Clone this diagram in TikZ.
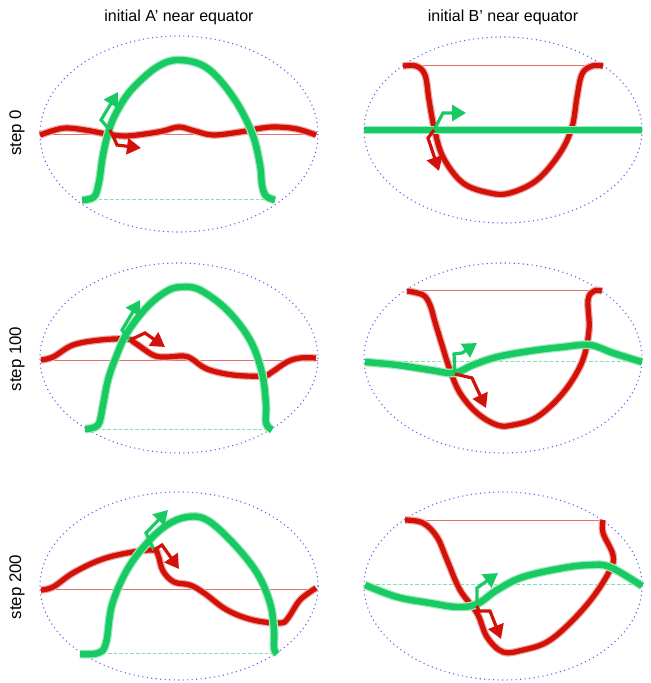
\documentclass[tikz,border=0pt]{standalone}
\usepackage{fontspec}
\setmainfont{Liberation Sans}
\usetikzlibrary{arrows.meta}

\definecolor{redc}{RGB}{210,18,8}
\definecolor{greenc}{RGB}{24,202,98}
\definecolor{rimc}{RGB}{95,95,245}

\begin{document}
\begin{tikzpicture}[x=0.5pt,y=-0.5pt,
    rim/.style={rimc, line width=0.55pt, dash pattern=on 0.55pt off 1.7pt},
    redbase/.style={redc!60, line width=0.5pt},
    greenbase/.style={greenc!55, line width=0.5pt, dash pattern=on 1.8pt off 1pt},
    redcurve/.style={redc, line width=2.6pt, line join=round,
        preaction={draw, redc!35, line width=3.8pt}},
    greencurve/.style={greenc, line width=3.2pt, line join=round,
        preaction={draw, greenc!40, line width=4.4pt}},
    redarrow/.style={redc, line width=1.6pt, line join=miter,
        -{Triangle[length=7pt,width=8pt]}},
    greenarrow/.style={greenc, line width=1.6pt, line join=miter,
        -{Triangle[length=7pt,width=8pt]}},
    heading/.style={font=\fontsize{8}{9}\selectfont},
    rowlabel/.style={font=\fontsize{8.4}{9}\selectfont, rotate=90}
  ]
  \useasboundingbox (0,0) rectangle (650,683);

  \node[heading] (titleA) at (179,17) {initial A' near equator};
  \node[heading] (titleB) at (503,17) {initial B' near equator};
  \node[rowlabel] (step0) at (17,133) {step 0};
  \node[rowlabel] (step100) at (17,359) {step 100};
  \node[rowlabel] (step200) at (17,587) {step 200};

  \foreach \cx/\cy/\ry in {179/134/98, 503/130/93, 179/358/95, 503/358/95, 179/586/94, 503/586/94}
    \draw[rim] (\cx,\cy) ellipse [x radius=139, y radius=\ry];

  % step 0, A'
  \draw[redbase] (40,135) -- (318,135);
  \draw[greenbase] (82,200) -- (275,200);
  \draw[redcurve] plot[smooth, tension=0.6] coordinates {(40,135) (55,130) (67,128) (85,130) (107,134)
    (125,136) (145,134) (163,131) (179,127) (195,131) (213,135) (240,132) (262,128) (277,127)
    (297,129) (316,135)};
  \draw[greencurve] plot[smooth, tension=0.6] coordinates {(82,200) (94,197) (99,182) (103,155)
    (110,127) (120,106) (133,88) (157,67) (179,60) (207,68) (233,97) (252,133) (260,165)
    (262,185) (266,196) (275,200)};
  \coordinate (pA0) at (110,130);
  \draw[greenarrow] (pA0) -- (101,120) -- (118,92);
  \draw[redarrow] (pA0) -- (113,136) -- (117,145) -- (141,148);

  % step 0, B'
  \draw[redbase] (403,66) -- (603,66);
  \draw[redcurve] plot[smooth, tension=0.6] coordinates {(403,66) (416,66) (425,75) (429,100)
    (434,127) (443,157) (463,183) (490,193) (510,193) (537,180) (560,153) (572,127) (577,97)
    (582,74) (592,66) (603,66)};
  \draw[greencurve] (364,130) -- (642,130);
  \coordinate (pB0) at (434,130);
  \draw[greenarrow] (pB0) -- (443,113) -- (466,113);
  \draw[redarrow] (pB0) -- (428,138) -- (439,171);

  % step 100, A'
  \draw[redbase] (40,360) -- (318,360);
  \draw[greenbase] (85,429) -- (272,429);
  \draw[redcurve] plot[smooth, tension=0.6] coordinates {(41,360) (53,357) (73,345) (100,340)
    (127,339) (135,343) (153,355) (165,357) (183,356) (192,359) (207,369) (233,375) (263,376)
    (272,372) (287,362) (300,358) (316,358)};
  \draw[greencurve] plot[smooth, tension=0.6] coordinates {(85,429) (98,425) (103,405) (108,380)
    (116,357) (127,333) (147,307) (167,291) (182,287) (200,290) (227,310) (250,340) (262,373)
    (266,405) (266,423) (272,430)};
  \coordinate (pA1) at (130,340);
  \draw[greenarrow] (pA1) -- (122,330) -- (140,300);
  \draw[redarrow] (pA1) -- (145,333) -- (165,347);

  % step 100, B'
  \draw[redbase] (407,291) -- (602,291);
  \draw[greenbase] (365,361) -- (642,361);
  \draw[redcurve] plot[smooth, tension=0.6] coordinates {(407,291) (423,295) (430,305) (435,322)
    (442,345) (450,370) (460,393) (477,413) (497,425) (513,425) (537,417) (563,393) (582,362)
    (589,330) (588,300) (594,291) (602,291)};
  \draw[greencurve] plot[smooth, tension=0.6] coordinates {(365,362) (397,365) (430,370) (454,373)
    (473,365) (497,357) (530,351) (563,347) (590,345) (613,353) (642,362)};
  \coordinate (pB1) at (455,374);
  \draw[greenarrow] (pB1) -- (454,354) -- (462,353) -- (477,343);
  \draw[redarrow] (pB1) -- (472,378) -- (486,408);

  % step 200, A'
  \draw[redbase] (40,589) -- (318,589);
  \draw[greenbase] (80,653) -- (277,653);
  \draw[redcurve] plot[smooth, tension=0.6] coordinates {(41,590) (53,587) (73,573) (100,560)
    (127,553) (153,550) (158,555) (163,571) (174,582) (190,585) (204,593) (227,610) (253,620)
    (280,623) (288,618) (300,600) (316,588)};
  \draw[greencurve] plot[smooth, tension=0.6] coordinates {(80,654) (98,653) (106,643) (112,605)
    (127,570) (147,543) (167,525) (187,517) (207,520) (233,543) (257,573) (270,603) (274,630)
    (274,648) (277,654)};
  \coordinate (pA2) at (154,550);
  \draw[greenarrow] (pA2) -- (146,533) -- (168,510);
  \draw[redarrow] (pA2) -- (162,545) -- (179,569);

  % step 200, B'
  \draw[redbase] (405,520) -- (603,520);
  \draw[greenbase] (365,584) -- (642,584);
  \draw[redcurve] plot[smooth, tension=0.6] coordinates {(405,520) (423,523) (437,537) (447,560)
    (460,590) (477,613) (487,637) (503,652) (523,650) (547,642) (570,623) (593,597) (610,570)
    (613,555) (603,533) (603,520)};
  \draw[greencurve] plot[smooth, tension=0.6] coordinates {(365,585) (397,597) (430,603) (457,607)
    (477,604) (497,590) (523,577) (563,568) (590,565) (610,567) (642,586)};
  \coordinate (pB2) at (477,606);
  \draw[greenarrow] (pB2) -- (477,588) -- (498,573);
  \draw[redarrow] (pB2) -- (479,611) -- (490,611) -- (501,639);
\end{tikzpicture}
\end{document}
